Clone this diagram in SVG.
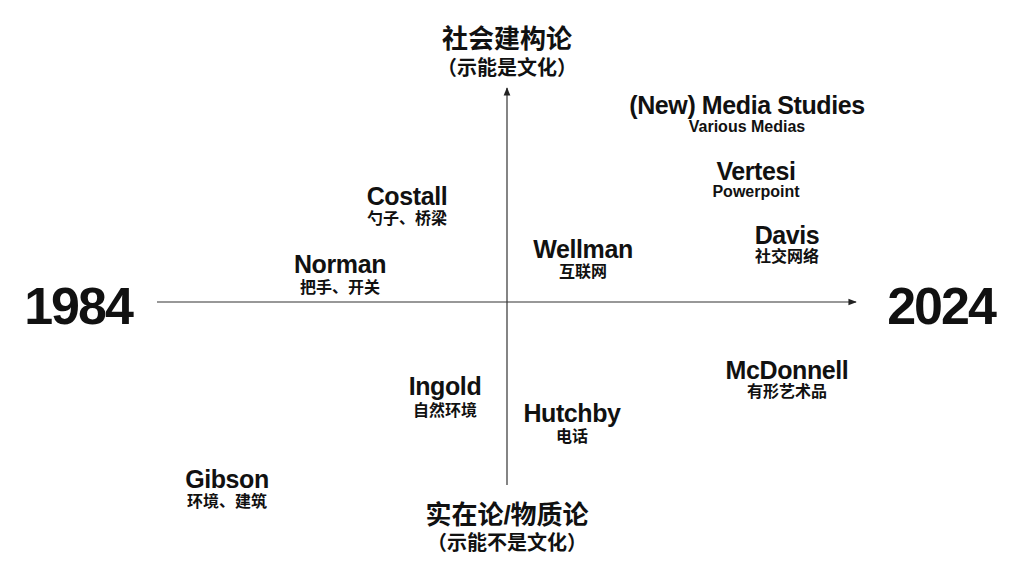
<svg xmlns="http://www.w3.org/2000/svg" width="1024" height="576" viewBox="0 0 1024 576">
<style>
text{font-family:"Liberation Sans","Noto Sans CJK SC",sans-serif;font-weight:bold;fill:#111;text-anchor:middle}
.n{font-size:25px;letter-spacing:-0.4px}
.s{font-size:16px}
.big{font-size:52px;letter-spacing:-2px}
.ax{font-size:26px}
.axs{font-size:20px}
</style>
<defs><marker id="a" viewBox="0 0 10 10" refX="9" refY="5" markerWidth="7" markerHeight="7" orient="auto"><path d="M0,1 L10,5 L0,9 z" fill="#222"/></marker></defs>
<rect width="1024" height="576" fill="#fff"/>
<g id="connectors" stroke="#333" stroke-width="1.2">
<line x1="157" y1="302" x2="856" y2="302" marker-end="url(#a)"/>
<line x1="507" y1="485" x2="507" y2="88" marker-end="url(#a)"/>
</g>
<g id="top"><text class="ax" x="507" y="48">社会建构论</text><text class="axs" x="507" y="75">（示能是文化）</text></g>
<g id="bottom"><text class="ax" x="507" y="524">实在论/物质论</text><text class="axs" x="507" y="550">（示能不是文化）</text></g>
<g id="y1984"><text class="big" x="78" y="324">1984</text></g>
<g id="y2024"><text class="big" x="941" y="324">2024</text></g>
<g id="newmedia"><text class="n" x="747" y="114">(New) Media Studies</text><text class="s" x="747" y="132">Various Medias</text></g>
<g id="vertesi"><text class="n" x="756" y="180">Vertesi</text><text class="s" x="756" y="197">Powerpoint</text></g>
<g id="davis"><text class="n" x="787" y="244">Davis</text><text class="s" x="787" y="262">社交网络</text></g>
<g id="costall"><text class="n" x="407" y="205">Costall</text><text class="s" x="407" y="224">勺子、桥梁</text></g>
<g id="wellman"><text class="n" x="583" y="258">Wellman</text><text class="s" x="583" y="277">互联网</text></g>
<g id="norman"><text class="n" x="340" y="273">Norman</text><text class="s" x="340" y="293">把手、开关</text></g>
<g id="ingold"><text class="n" x="445" y="395">Ingold</text><text class="s" x="445" y="416">自然环境</text></g>
<g id="hutchby"><text class="n" x="572" y="422">Hutchby</text><text class="s" x="572" y="442">电话</text></g>
<g id="mcdonnell"><text class="n" x="787" y="379">McDonnell</text><text class="s" x="787" y="397">有形艺术品</text></g>
<g id="gibson"><text class="n" x="227" y="488">Gibson</text><text class="s" x="227" y="507">环境、建筑</text></g>
</svg>
